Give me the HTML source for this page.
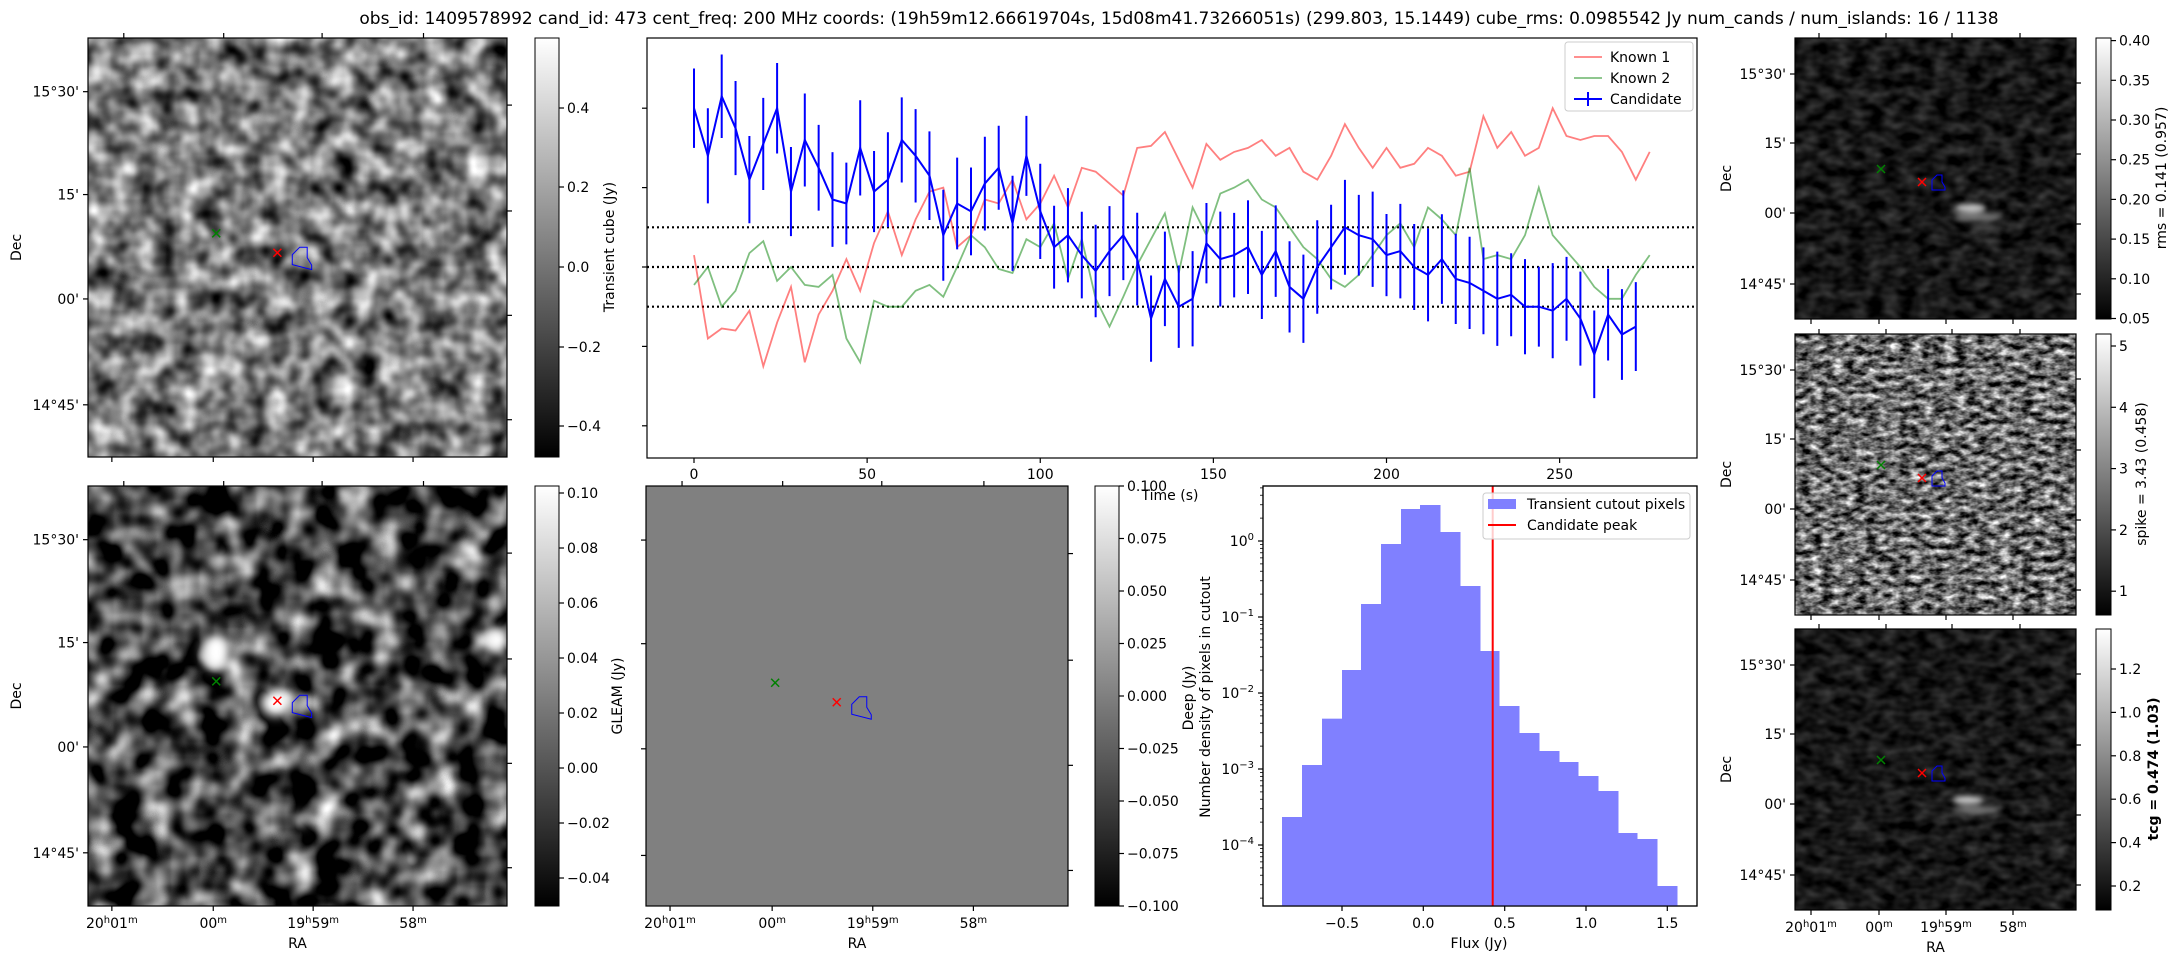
<!DOCTYPE html>
<html><head><meta charset="utf-8"><style>
html,body{margin:0;padding:0;background:#fff}
svg{display:block}
text{font-family:"DejaVu Sans","Liberation Sans",sans-serif;fill:#000}
</style></head><body>
<svg id="s" width="2179" height="960" xmlns="http://www.w3.org/2000/svg">
<defs>
<linearGradient id="cb" x1="0" y1="0" x2="0" y2="1"><stop offset="0" stop-color="#fff"/><stop offset="1" stop-color="#000"/></linearGradient>
<filter id="fTL" color-interpolation-filters="sRGB" filterUnits="userSpaceOnUse" x="88" y="38" width="419" height="419">
<feTurbulence type="fractalNoise" baseFrequency="0.045" numOctaves="2" seed="3"/>
<feColorMatrix values="1.4 0 0 0 -0.22  1.4 0 0 0 -0.22  1.4 0 0 0 -0.22  0 0 0 0 1"/></filter>
<filter id="fBL" color-interpolation-filters="sRGB" filterUnits="userSpaceOnUse" x="88" y="486" width="419" height="420">
<feTurbulence type="fractalNoise" baseFrequency="0.035" numOctaves="2" seed="9"/>
<feColorMatrix values="1.9 0 0 0 -0.68  1.9 0 0 0 -0.68  1.9 0 0 0 -0.68  0 0 0 0 1"/></filter>
<filter id="fR1" color-interpolation-filters="sRGB" filterUnits="userSpaceOnUse" x="1795" y="38" width="281" height="281">
<feTurbulence type="fractalNoise" baseFrequency="0.06 0.09" numOctaves="2" seed="5"/>
<feColorMatrix values="0.4 0 0 0 -0.11  0.4 0 0 0 -0.11  0.4 0 0 0 -0.11  0 0 0 0 1"/></filter>
<filter id="fR2" color-interpolation-filters="sRGB" filterUnits="userSpaceOnUse" x="1795" y="334" width="281" height="281">
<feTurbulence type="fractalNoise" baseFrequency="0.09 0.16" numOctaves="3" seed="11"/>
<feColorMatrix values="1.6 0 0 0 -0.38  1.6 0 0 0 -0.38  1.6 0 0 0 -0.38  0 0 0 0 1"/></filter>
<filter id="fR3" color-interpolation-filters="sRGB" filterUnits="userSpaceOnUse" x="1795" y="629" width="281" height="281">
<feTurbulence type="fractalNoise" baseFrequency="0.06 0.09" numOctaves="2" seed="7"/>
<feColorMatrix values="0.4 0 0 0 -0.11  0.4 0 0 0 -0.11  0.4 0 0 0 -0.11  0 0 0 0 1"/></filter>
<filter id="bl"><feGaussianBlur stdDeviation="5"/></filter>
<filter id="bl2"><feGaussianBlur stdDeviation="3"/></filter>
</defs>
<text x="1179" y="24" font-size="17" text-anchor="middle">obs_id: 1409578992 cand_id: 473 cent_freq: 200 MHz coords: (19h59m12.66619704s, 15d08m41.73266051s) (299.803, 15.1449) cube_rms: 0.0985542 Jy num_cands / num_islands: 16 / 1138</text>

<rect x="88" y="38" width="419" height="419" fill="#888" filter="url(#fTL)"/>
<rect x="88" y="486" width="419" height="420" fill="#444" filter="url(#fBL)"/>
<g filter="url(#bl)" fill="#fff">
<ellipse cx="216" cy="652" rx="14" ry="18"/><ellipse cx="276" cy="703" rx="15" ry="13"/>
<circle cx="497" cy="640" r="12"/><circle cx="220" cy="560" r="7"/><circle cx="300" cy="820" r="6"/><circle cx="410" cy="860" r="6"/>
</g>
<rect x="646" y="486" width="422" height="420" fill="#808080"/>
<rect x="1795" y="38" width="281" height="281" fill="#222" filter="url(#fR1)"/>
<rect x="1795" y="334" width="281" height="281" fill="#888" filter="url(#fR2)"/>
<rect x="1795" y="629" width="281" height="281" fill="#222" filter="url(#fR3)"/>
<g filter="url(#bl2)">
<ellipse cx="1970" cy="208" rx="16" ry="4" fill="#ccc"/><ellipse cx="1978" cy="217" rx="24" ry="4" fill="#777"/><ellipse cx="1985" cy="228" rx="16" ry="3" fill="#555"/>
<ellipse cx="1968" cy="800" rx="16" ry="4" fill="#ccc"/><ellipse cx="1976" cy="810" rx="24" ry="4" fill="#777"/>
</g>

<g fill="none" stroke="#000" stroke-width="1.2">
<rect x="88" y="38" width="419" height="419"/>
<rect x="88" y="486" width="419" height="420"/>
<rect x="646" y="486" width="422" height="420"/>
<rect x="1795" y="38" width="281" height="281"/>
<rect x="1795" y="334" width="281" height="281"/>
<rect x="1795" y="629" width="281" height="281"/>
<rect x="647" y="38" width="1050" height="420"/>
<rect x="1263" y="486" width="434" height="420"/>
</g>
<rect x="535" y="38" width="24" height="419" fill="url(#cb)" stroke="#000"/>
<rect x="535" y="486" width="24" height="420" fill="url(#cb)" stroke="#000"/>
<rect x="1095" y="486" width="24" height="420" fill="url(#cb)" stroke="#000"/>
<rect x="2096" y="38" width="15" height="281" fill="url(#cb)" stroke="#000"/>
<rect x="2096" y="334" width="15" height="281" fill="url(#cb)" stroke="#000"/>
<rect x="2096" y="629" width="15" height="281" fill="url(#cb)" stroke="#000"/>
<g id="g"></g>
</svg>
<script>
var g=document.getElementById('g'),NS='http://www.w3.org/2000/svg';
function el(t,a,txt){var e=document.createElementNS(NS,t);for(var k in a)e.setAttribute(k,a[k]);if(txt!=null)e.textContent=txt;g.appendChild(e);return e;}
function ln(x1,y1,x2,y2,c,w,extra){var a={x1:x1,y1:y1,x2:x2,y2:y2,stroke:c||'#000','stroke-width':w||1.2};for(var k in extra)a[k]=extra[k];return el('line',a);}
function tx(x,y,s,fs,anc,extra){var a={x:x,y:y,'font-size':fs||14,'text-anchor':anc||'start'};for(var k in extra)a[k]=extra[k];return el('text',a,s);}
function cbt(x,list){list.forEach(function(p){ln(x,p[1],x+5,p[1]);tx(x+8,p[1]+5,p[0],14);});}
cbt(559,[['0.4',108],['0.2',187],['0.0',267],['\u22120.2',347],['\u22120.4',426]]);
var l=[];['0.10','0.08','0.06','0.04','0.02','0.00','\u22120.02','\u22120.04'].forEach(function(s,i){l.push([s,493+i*55]);});cbt(559,l);
l=[];['0.100','0.075','0.050','0.025','0.000','\u22120.025','\u22120.050','\u22120.075','\u22120.100'].forEach(function(s,i){l.push([s,486+i*52.5]);});cbt(1119,l);
l=[];['0.40','0.35','0.30','0.25','0.20','0.15','0.10','0.05'].forEach(function(s,i){l.push([s,40.6+i*39.7]);});cbt(2111,l);
l=[];['5','4','3','2','1'].forEach(function(s,i){l.push([s,346+i*61.3]);});cbt(2111,l);
l=[];['1.2','1.0','0.8','0.6','0.4','0.2'].forEach(function(s,i){l.push([s,669+i*43.4]);});cbt(2111,l);
function vt(x,y,s,fs,extra){var a={x:0,y:0,'font-size':fs||14,'text-anchor':'middle',transform:'translate('+x+','+y+') rotate(-90)'};for(var k in extra)a[k]=extra[k];return el('text',a,s);}
vt(614,247,'Transient cube (Jy)');vt(622,696,'GLEAM (Jy)');vt(1193,698,'Deep (Jy)');
vt(1210,697,'Number density of pixels in cutout');
vt(2166,178,'rms = 0.141 (0.957)',14);vt(2146,474,'spike = 3.43 (0.458)',14);vt(2158,769,'tcg = 0.474 (1.03)',14,{'font-weight':'bold'});
function sky(x0,y0,w,h,decl,ral,dx){var s=w/281;
 var ry=[36,105,175,246],rx=[16,84,151,218],rxt=[24,91,157,225],rr=[45,116,186,256];
 ry.forEach(function(r,i){var y=y0+r*s;ln(x0-5,y,x0,y);if(decl)tx(x0-9,y+5,['15\u00b030\'','15\'','00\'','14\u00b045\''][i],14,'end');});
 rr.forEach(function(r){var y=y0+r*s;ln(x0+w,y,x0+w+5,y);});
 rx.forEach(function(r,i){var x=x0+r*s;ln(x,y0+h,x,y0+h+5);if(ral){var t=el('text',{x:x,y:y0+h+22,'font-size':14,'text-anchor':'middle'});t.innerHTML=['20<tspan dy="-5" font-size="10">h</tspan><tspan dy="5">01</tspan><tspan dy="-5" font-size="10">m</tspan>','00<tspan dy="-5" font-size="10">m</tspan>','19<tspan dy="-5" font-size="10">h</tspan><tspan dy="5">59</tspan><tspan dy="-5" font-size="10">m</tspan>','58<tspan dy="-5" font-size="10">m</tspan>'][i];}});
 rxt.forEach(function(r){var x=x0+r*s;ln(x,y0-5,x,y0);});
 if(dx)vt(dx,y0+h/2,'Dec');
 if(ral)tx(x0+w/2,y0+h+42,'RA',14,'middle');
 var gx=x0+86*s,gy=y0+131*s,rx2=x0+127*s,ry2=y0+144*s,d=4;
 ln(gx-d,gy-d,gx+d,gy+d,'#008000',1.5);ln(gx-d,gy+d,gx+d,gy-d,'#008000',1.5);
 ln(rx2-d,ry2-d,rx2+d,ry2+d,'#f00',1.5);ln(rx2-d,ry2+d,rx2+d,ry2-d,'#f00',1.5);
 var bx=x0+137*s,by=y0+137*s;
 el('path',{d:'M'+bx+','+(by+15*s)+' l0,-10 '+'l'+(5*s)+','+(-5*s)+' l'+(5*s)+',0 l0,'+(7*s)+' l'+(3*s)+','+(5*s)+' l0,'+(3*s)+'z',fill:'none',stroke:'#00f','stroke-width':1});
}
sky(88,38,419,419,true,false,21);sky(88,486,419,420,true,true,21);sky(646,486,422,420,false,true,0);
sky(1795,38,281,281,true,false,1731);sky(1795,334,281,281,true,false,1731);sky(1795,629,281,281,true,true,1731);
function X(t){return 694+t*3.4625;}function Y(v){return 267-v*397;}
[0,50,100,150,200,250].forEach(function(t){ln(X(t),458,X(t),463);tx(X(t),479,''+t,14,'middle');});
[0.4,0.2,0,-0.2,-0.4].forEach(function(v){ln(642,Y(v),647,Y(v));});
tx(1170,500,'Time (s)',14,'middle');
[0.1,0,-0.1].forEach(function(v){ln(647,Y(v),1697,Y(v),'#000',2.2,{'stroke-dasharray':'2,3'});});
var red=[0.03,-0.18,-0.155,-0.16,-0.11,-0.25,-0.14,-0.05,-0.24,-0.12,-0.06,0.02,-0.06,0.06,0.14,0.03,0.12,0.19,0.20,0.05,0.08,0.17,0.16,0.22,0.12,0.16,0.23,0.15,0.25,0.24,0.21,0.18,0.30,0.305,0.34,0.27,0.20,0.31,0.27,0.29,
0.30,0.32,0.28,0.30,0.24,0.22,0.28,0.36,0.30,0.25,0.30,0.25,0.26,0.30,0.28,0.23,0.24,0.38,0.30,0.34,0.28,0.30,0.40,0.33,0.32,0.33,0.33,0.29,0.22,0.29,0.17,0.18];
var grn=[-0.045,0,-0.10,-0.06,0.035,0.065,-0.035,0,-0.045,-0.05,-0.02,-0.18,-0.24,-0.085,-0.10,-0.10,-0.06,-0.045,-0.075,0,0.08,0.05,-0.005,-0.015,0.07,0.05,0.11,-0.03,0.07,-0.08,-0.15,-0.075,0.005,0.07,0.135,-0.015,0.15,0.08,0.185,0.20,
0.22,0.17,0.15,0.10,0.05,0.02,-0.03,-0.05,-0.02,0.03,0.08,0.11,0.05,0.15,0.12,0.08,0.25,0.02,0.03,0.02,0.08,0.20,0.08,0.04,0.0,-0.05,-0.08,-0.08,-0.02,0.03];
var cand=[0.40,0.28,0.43,0.35,0.22,0.31,0.40,0.19,0.32,0.25,0.17,0.16,0.30,0.19,0.22,0.32,0.28,0.23,0.08,0.16,0.14,0.21,0.25,0.11,0.28,0.14,0.05,0.08,0.03,-0.01,0.04,0.08,0.02,-0.13,-0.03,-0.10,-0.08,0.06,0.02,
0.03,0.05,-0.02,0.04,-0.05,-0.08,0.0,0.05,0.1,0.08,0.07,0.03,0.04,0.0,-0.02,0.02,-0.03,-0.04,-0.06,-0.08,-0.07,-0.10,-0.10,-0.11,-0.08,-0.13,-0.22,-0.12,-0.17,-0.15];
function poly(a,c,w,op){var n=Math.min(a.length,70),p=[];for(var i=0;i<n;i++)p.push(X(i*4).toFixed(1)+','+Y(a[i]).toFixed(1));el('polyline',{points:p.join(' '),fill:'none',stroke:c,'stroke-width':w,'stroke-opacity':op||1});}
poly(red,'#ff0000',1.8,0.5);poly(grn,'#008000',1.8,0.5);
for(var i=0;i<cand.length&&i<70;i++){var e=0.1+0.02*Math.abs(Math.sin(i*1.7));ln(X(i*4),Y(cand[i]+e),X(i*4),Y(cand[i]-e),'#00f',2);}
poly(cand,'#0000ff',2);
el('rect',{x:1565,y:42,width:128,height:69,rx:3,fill:'#fff','fill-opacity':0.8,stroke:'#ccc'});
ln(1574,57,1602,57,'#ff0000',1.8,{'stroke-opacity':0.5});tx(1610,62,'Known 1',14);
ln(1574,78,1602,78,'#008000',1.8,{'stroke-opacity':0.5});tx(1610,83,'Known 2',14);
ln(1574,99,1602,99,'#00f',2);ln(1588,92,1588,106,'#00f',2);tx(1610,104,'Candidate',14);
var ed=[246,306,366,426,483,543,603,660,720,780,840,897,957,1017,1077,1134,1194,1254,1311,1371,1431],tp=[1041,885,746,600,402,222,117,105,186,348,543,708,789,843,876,918,963,1089,1107,1248];
for(i=0;i<tp.length;i++){var x1=1200+ed[i]/3,x2=1200+ed[i+1]/3,y=470+tp[i]/3;el('rect',{x:x1,y:y,width:x2-x1+0.5,height:906-y,fill:'#8080ff'});}
ln(1492.7,486,1492.7,906,'#f00',2);
el('rect',{x:1263,y:486,width:434,height:420,fill:'none',stroke:'#000','stroke-width':1.2});
[['\u22120.5',1342],['0.0',1423.3],['0.5',1504.7],['1.0',1586],['1.5',1667.3]].forEach(function(p){ln(p[1],906,p[1],911);tx(p[1],928,p[0],14,'middle');});
tx(1479,948,'Flux (Jy)',14,'middle');
[0,-1,-2,-3,-4].forEach(function(k,i){var y=541+i*76;ln(1258,y,1263,y);var t=el('text',{x:1254,y:y+5,'font-size':14,'text-anchor':'end'});t.innerHTML='10<tspan dy="-6" font-size="10">'+(k==0?'0':'\u2212'+(-k))+'</tspan>';
 for(var m=2;m<10;m++){var yy=y-76*Math.log10(m);if(yy>486&&yy<906)ln(1260,yy,1263,yy,'#000',0.8);}});
for(var m=2;m<10;m++){var yy=845+76-76*Math.log10(m);if(yy<906)ln(1260,yy,1263,yy,'#000',0.8);}
el('rect',{x:1483,y:493,width:207,height:46,rx:3,fill:'#fff','fill-opacity':0.8,stroke:'#ccc'});
el('rect',{x:1488,y:499,width:28,height:10,fill:'#8080ff'});tx(1527,509,'Transient cutout pixels',14);
ln(1488,525,1516,525,'#f00',2);tx(1527,530,'Candidate peak',14);
</script>
</body></html>
